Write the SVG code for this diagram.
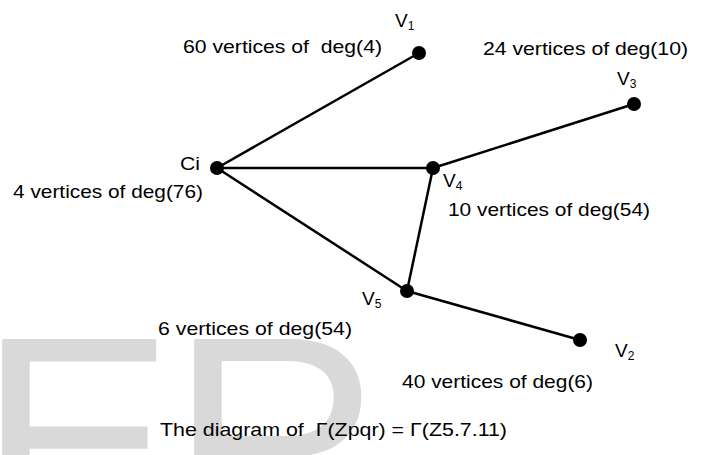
<svg xmlns="http://www.w3.org/2000/svg" width="704" height="455" viewBox="0 0 704 455">
<style>
.wm{font-family:"Liberation Sans",Arial,sans-serif;font-size:295px;fill:#d9d9d9}
.t{font-family:"Liberation Sans",Arial,sans-serif;font-size:19px;fill:#000;white-space:pre}
.s{font-size:12px}
.e{stroke:#000;stroke-width:2.5;fill:none}
.n{fill:#000}
</style>
<rect width="704" height="455" fill="#fff"/>
<g id="watermark">
<text class="wm" x="-22" y="542">E</text>
<text class="wm" x="170" y="542">R</text>
</g>
<g id="edges">
<line class="e" x1="217" y1="168" x2="419" y2="53"/>
<line class="e" x1="217" y1="168" x2="433" y2="168"/>
<line class="e" x1="217" y1="168" x2="407" y2="291"/>
<line class="e" x1="433" y1="168" x2="634" y2="104"/>
<line class="e" x1="433" y1="168" x2="407" y2="291"/>
<line class="e" x1="407" y1="291" x2="580" y2="340"/>
</g>
<g id="V1">
<circle class="n" cx="419" cy="53" r="7"/>
<text class="t" x="395" y="27">V<tspan class="s" dy="3">1</tspan></text>
<text class="t" x="183" y="53" textLength="199" lengthAdjust="spacingAndGlyphs" xml:space="preserve">60 vertices of  deg(4)</text>
</g>
<g id="V3">
<circle class="n" cx="634" cy="104" r="7"/>
<text class="t" x="617" y="85">V<tspan class="s" dy="3">3</tspan></text>
<text class="t" x="483" y="55" textLength="205" lengthAdjust="spacingAndGlyphs">24 vertices of deg(10)</text>
</g>
<g id="Ci">
<circle class="n" cx="217" cy="168" r="7"/>
<text class="t" x="180" y="170" textLength="20" lengthAdjust="spacingAndGlyphs">Ci</text>
<text class="t" x="13" y="198" textLength="190" lengthAdjust="spacingAndGlyphs">4 vertices of deg(76)</text>
</g>
<g id="V4">
<circle class="n" cx="433" cy="168" r="7"/>
<text class="t" x="443" y="187">V<tspan class="s" dy="3">4</tspan></text>
<text class="t" x="448" y="216" textLength="202" lengthAdjust="spacingAndGlyphs">10 vertices of deg(54)</text>
</g>
<g id="V5">
<circle class="n" cx="407" cy="291" r="7"/>
<text class="t" x="362" y="305">V<tspan class="s" dy="3">5</tspan></text>
<text class="t" x="158" y="335" textLength="194" lengthAdjust="spacingAndGlyphs">6 vertices of deg(54)</text>
</g>
<g id="V2">
<circle class="n" cx="580" cy="340" r="7"/>
<text class="t" x="615" y="357">V<tspan class="s" dy="3">2</tspan></text>
<text class="t" x="402" y="388" textLength="191" lengthAdjust="spacingAndGlyphs">40 vertices of deg(6)</text>
</g>
<g id="caption">
<text class="t" x="160" y="436" textLength="347" lengthAdjust="spacingAndGlyphs" xml:space="preserve">The diagram of  Γ(Zpqr) = Γ(Z5.7.11)</text>
</g>
</svg>
